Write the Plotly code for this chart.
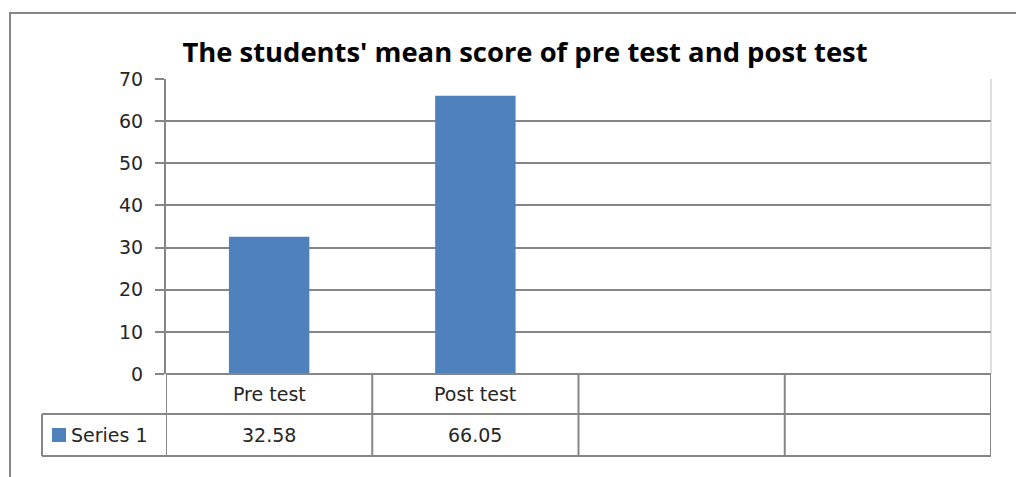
import plotly.graph_objects as go

# ---- data ----
categories = ["Pre test", "Post test", "", ""]
series_name = "Series 1"
values = [32.58, 66.05, None, None]
value_labels = ["32.58", "66.05", "", ""]
y_ticks = [0, 10, 20, 30, 40, 50, 60, 70]
title = "The students' mean score of pre test and post test"

# ---- layout geometry (pixels, in window coordinates) ----
OFF = 8                               # default page body margin
W, H = 1024 - OFF, 477 - OFF
PL, PR, PT, PB = 166, 991, 79, 374   # plot area
ROW1_B, ROW2_B = 414, 456            # data table row bottoms
TABLE_L = 42
BAR_COLOR = "#4F81BD"
LINE = "#868686"


def px(x):
    return (x - PL) / (PR - PL)


def py(y):
    return (PB - y) / (PB - PT)


xs = list(range(len(categories)))

fig = go.Figure()
fig.add_trace(go.Bar(
    x=xs, y=values, marker=dict(color=BAR_COLOR, line=dict(width=0)),
    name=series_name, showlegend=False, hoverinfo="y",
))

shapes = []
# outer chart frame
shapes.append(dict(type="rect", xref="paper", yref="paper",
                   x0=px(10), x1=px(1040), y0=py(500), y1=py(13),
                   line=dict(color=LINE, width=2), layer="below"))
# plot area right border
shapes.append(dict(type="line", xref="paper", yref="paper",
                   x0=1, x1=1, y0=0, y1=1,
                   line=dict(color="#BFBFBF", width=1)))
# data table horizontal lines
for yy, xl in [(PB, PL), (ROW1_B, TABLE_L), (ROW2_B, TABLE_L)]:
    shapes.append(dict(type="line", xref="paper", yref="paper",
                       x0=px(xl), x1=1, y0=py(yy), y1=py(yy),
                       line=dict(color=LINE, width=2)))
# data table vertical lines at category boundaries
for i in range(len(categories) + 1):
    shapes.append(dict(type="line", xref="x", yref="paper",
                       x0=i - 0.5, x1=i - 0.5, y0=py(ROW2_B), y1=py(PB),
                       line=dict(color=LINE, width=2)))
# left edge of legend cell
shapes.append(dict(type="line", xref="paper", yref="paper",
                   x0=px(TABLE_L), x1=px(TABLE_L), y0=py(ROW2_B), y1=py(ROW1_B),
                   line=dict(color=LINE, width=2)))
# legend key square
shapes.append(dict(type="rect", xref="paper", yref="paper",
                   x0=px(52), x1=px(66), y0=py(442), y1=py(428),
                   fillcolor=BAR_COLOR, line=dict(width=0)))

annotations = []
FONT = dict(family="DejaVu Sans, sans-serif", size=19, color="#262626")
for i, (c, v) in enumerate(zip(categories, value_labels)):
    annotations.append(dict(x=i, xref="x", y=py((PB + ROW1_B) / 2), yref="paper",
                            text=c, showarrow=False, font=FONT,
                            xanchor="center", yanchor="middle"))
    annotations.append(dict(x=i, xref="x", y=py((ROW1_B + ROW2_B) / 2), yref="paper",
                            text=v, showarrow=False, font=FONT,
                            xanchor="center", yanchor="middle"))
annotations.append(dict(x=px(69), xref="paper", y=py((ROW1_B + ROW2_B) / 2), yref="paper",
                        text=series_name, showarrow=False, font=FONT,
                        xanchor="left", yanchor="middle"))

fig.update_layout(
    width=W, height=H,
    margin=dict(l=PL - OFF, r=W + OFF - PR, t=PT - OFF, b=H + OFF - PB, pad=0),
    paper_bgcolor="white", plot_bgcolor="white",
    title=dict(text="<b>" + title + "</b>", x=px(525), xref="paper", xanchor="center",
               y=1 - (52 - OFF) / H, yref="container", yanchor="middle",
               font=dict(family="Open Sans, sans-serif", size=27.4, color="#000000")),
    bargap=0.61,
    showlegend=False,
    xaxis=dict(range=[-0.5, len(categories) - 0.5], showticklabels=False,
               showgrid=False, zeroline=False, showline=False, ticks=""),
    yaxis=dict(range=[0, 70], tickvals=y_ticks, ticks="outside", ticklen=9,
               tickcolor=LINE, tickwidth=2, showgrid=True, gridcolor=LINE, gridwidth=2,
               showline=True, linecolor=LINE, linewidth=2, zeroline=False,
               tickfont=FONT, ticklabelstandoff=8),
    shapes=shapes, annotations=annotations,
)

fig.write_html("out.html")
